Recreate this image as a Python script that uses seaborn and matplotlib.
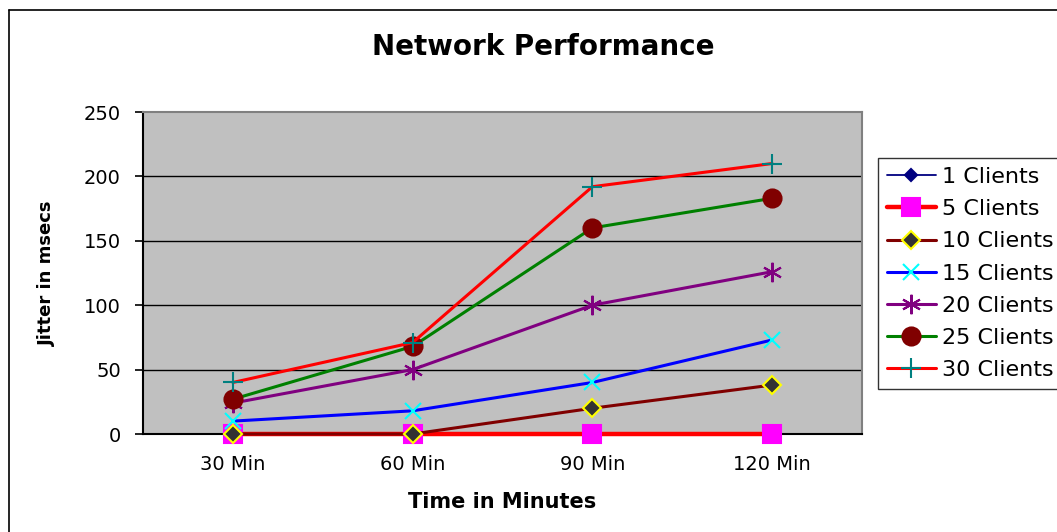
import numpy as np
import matplotlib
matplotlib.use("Agg")
import matplotlib.pyplot as plt
import seaborn as sns
from matplotlib.lines import Line2D

# Jitter (msecs) measured at each elapsed time, per number of clients
times = ["30 Min", "60 Min", "90 Min", "120 Min"]
clients_1 = [0, 0, 0, 0]
clients_5 = [0, 0, 0, 0]
clients_10 = [0, 0, 20, 38]
clients_15 = [10, 18, 40, 73]
clients_20 = [24, 50, 100, 126]
clients_25 = [27, 68, 160, 183]
clients_30 = [40, 71, 192, 210]
series_labels = ["1 Clients", "5 Clients", "10 Clients", "15 Clients",
                 "20 Clients", "25 Clients", "30 Clients"]
series_values = [clients_1, clients_5, clients_10, clients_15,
                 clients_20, clients_25, clients_30]
y_ticks = [0, 50, 100, 150, 200, 250]

# line colour, marker, marker size, face, edge, line width
styles = [
    dict(color="#000080", marker="D", markersize=6, mfc="#000080", mec="#000080", lw=1.3),
    dict(color="#FF0000", marker="s", markersize=13, mfc="#FF00FF", mec="#FF00FF", lw=3.2),
    dict(color="#800000", marker="D", markersize=9, mfc="#333333", mec="#FFFF00", lw=2.2),
    dict(color="#0000FF", marker="x", markersize=12, mfc="#00FFFF", mec="#00FFFF", lw=2.2),
    dict(color="#800080", marker=(6, 2, 0), markersize=14, mfc="#800080", mec="#800080", lw=2.2),
    dict(color="#008000", marker="o", markersize=13, mfc="#800000", mec="#800000", lw=2.2),
    dict(color="#FF0000", marker="+", markersize=14, mfc="#008080", mec="#008080", lw=2.2),
]

sns.set_theme(style="white")
plt.rcParams["font.family"] = ["DejaVu Sans"]
for key in ("text.color", "axes.labelcolor", "xtick.color", "ytick.color"):
    plt.rcParams[key] = "black"

W, H = 1057, 532
fig = plt.figure(figsize=(W / 100, H / 100), dpi=100)
fig.patch.set_facecolor("white")

left, right, top, bottom = 143, 862, 112, 434
ax = fig.add_axes([left / W, 1 - bottom / H, (right - left) / W, (bottom - top) / H])
ax.set_facecolor("#C0C0C0")

x = np.arange(len(times))
for i, (lab, vals, st) in enumerate(zip(series_labels, series_values, styles)):
    sns.lineplot(x=x, y=vals, ax=ax, label=lab, color=st["color"],
                 marker=st["marker"], markersize=st["markersize"],
                 markerfacecolor=st["mfc"], markeredgecolor=st["mec"],
                 markeredgewidth=1.5, linewidth=st["lw"], zorder=3 + i,
                 clip_on=False, sort=False)

ax.set_xlim(-0.5, len(times) - 0.5)
ax.set_ylim(0, 250)
ax.set_yticks(y_ticks)
ax.set_yticklabels([str(v) for v in y_ticks], fontsize=14)
ax.set_xticks(x)
ax.set_xticklabels(times, fontsize=14)
ax.set_xticks(np.arange(-0.5, len(times)), minor=True)
ax.tick_params(axis="x", which="major", length=0, pad=15)
ax.tick_params(axis="x", which="minor", length=6, width=1.2, color="black", direction="out")
ax.tick_params(axis="y", length=6, width=1.2, color="black", direction="out", pad=10, left=True)

for v in y_ticks[1:-1]:
    ax.axhline(v, color="black", lw=1.0, zorder=1)

for side in ("top", "right"):
    ax.spines[side].set_color("#808080")
    ax.spines[side].set_linewidth(1.5)
for side in ("left", "bottom"):
    ax.spines[side].set_color("black")
    ax.spines[side].set_linewidth(1.5)

ax.set_xlabel("Time in Minutes", fontsize=15, fontweight="bold", labelpad=13)
ax.set_ylabel("Jitter in msecs", fontsize=13, fontweight="bold", labelpad=20)

fig.text(543 / W, 1 - 47 / H, "Network Performance", fontsize=20,
         fontweight="bold", ha="center", va="center")

ax.get_legend().remove()
handles, labels = ax.get_legend_handles_labels()
leg = fig.legend(handles, labels, loc="upper left",
                 bbox_to_anchor=(878 / W, 1 - 158 / H), fontsize=16,
                 frameon=True, fancybox=False, shadow=False,
                 handlelength=2.2, handletextpad=0.3, labelspacing=0.55,
                 borderpad=0.4, borderaxespad=0)
leg.get_frame().set_edgecolor("black")
leg.get_frame().set_linewidth(1.0)

# outer chart border (left and top edges)
bx, by = 9 / W, 1 - 10 / H
fig.add_artist(Line2D([bx, bx], [0, by], color="black", lw=1.2, transform=fig.transFigure))
fig.add_artist(Line2D([bx, 1], [by, by], color="black", lw=1.2, transform=fig.transFigure))

fig.savefig("out.png", dpi=100)
